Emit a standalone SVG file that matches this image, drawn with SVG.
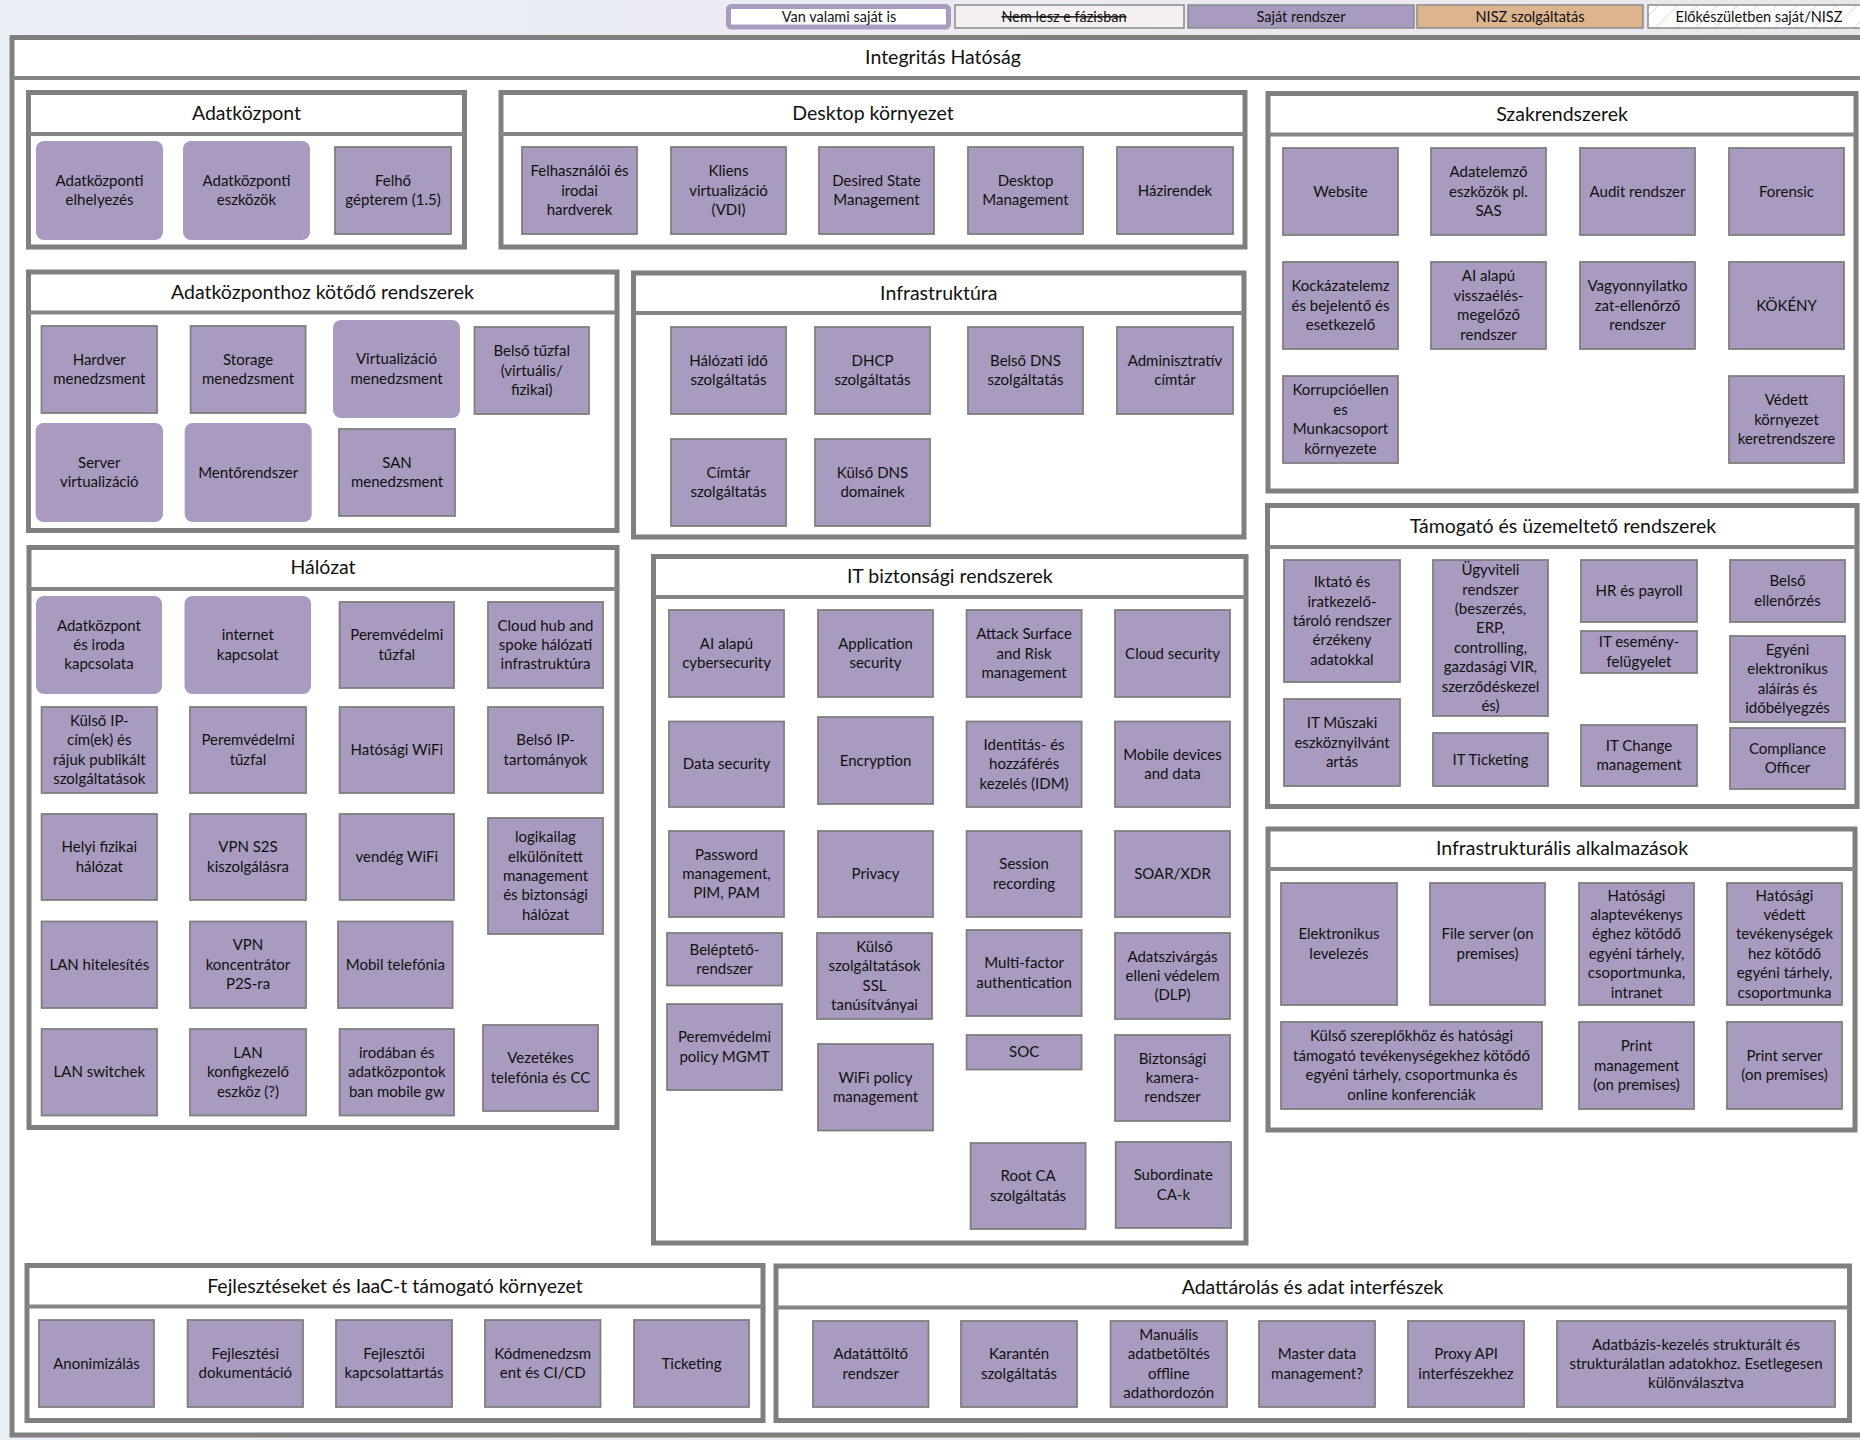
<svg xmlns="http://www.w3.org/2000/svg" width="1860" height="1440" viewBox="0 0 1860 1440">
<style>
.grp{fill:#fff;stroke:#7f7f7f;stroke-width:5}
.hdr{stroke:#868686;stroke-width:4}
.ttl{font-family:Lato,"Liberation Sans",sans-serif;font-size:19.5px;text-anchor:middle;fill:#111}
.n{fill:#a99bbf;stroke:#7f7f7f;stroke-width:1.8}
.r{fill:#a99bbf}
.t{font-family:Lato,"Liberation Sans",sans-serif;font-size:15px;text-anchor:middle;fill:#111}
.lg{font-family:Lato,"Liberation Sans",sans-serif;font-size:14.5px;text-anchor:middle;fill:#111}
.lgb{stroke:#8a8a8a;stroke-width:1.5}
</style>
<defs>
<linearGradient id="bg" x1="0" y1="0" x2="1" y2="0">
<stop offset="0" stop-color="#eaeff8"/>
<stop offset="1" stop-color="#ebe6ec"/>
</linearGradient>
<pattern id="hatch" width="14" height="14" patternUnits="userSpaceOnUse" patternTransform="rotate(45)">
<rect width="14" height="14" fill="#fff"/>
<line x1="0" y1="0" x2="0" y2="14" stroke="#c8c8c8" stroke-width="1.2"/>
</pattern>
</defs>
<rect x="0" y="0" width="1860" height="1440" fill="url(#bg)"/>

<g id="legend">
<g id="lg-van"><rect x="728.5" y="6.5" width="220" height="20.5" rx="3" fill="#fff" stroke="#a99bbf" stroke-width="5"/><text class="lg" x="839" y="21.5">Van valami saját is</text></g>
<g id="lg-nem"><rect class="lgb" x="955" y="5" width="229" height="23" fill="#f4f0f1"/><text class="lg" x="1064" y="21.5" style="text-decoration:line-through">Nem lesz e fázisban</text></g>
<g id="lg-sajat"><rect class="lgb" x="1188" y="5" width="226" height="23" fill="#a99bbf"/><text class="lg" x="1301" y="21.5">Saját rendszer</text></g>
<g id="lg-nisz"><rect class="lgb" x="1417" y="5" width="226" height="23" fill="#dcb48e"/><text class="lg" x="1530" y="21.5">NISZ szolgáltatás</text></g>
<g id="lg-elo"><rect class="lgb" x="1648" y="5" width="226" height="23" fill="url(#hatch)"/><text class="lg" x="1759" y="21.5">Előkészületben saját/NISZ</text></g>
</g>

<g id="outer">
<rect class="grp" x="12" y="37.5" width="1880" height="1397.5"/>
<line class="hdr" x1="12" y1="78" x2="1860" y2="78"/>
<text class="ttl" x="943" y="64">Integritás Hatóság</text>
</g>

<g id="connectors"/>

<g id="grp-adatkozpont">
<rect class="grp" x="28.5" y="92.5" width="436" height="154.5"/>
<line class="hdr" x1="28.5" y1="134" x2="464.5" y2="134"/>
<text class="ttl" x="246.5" y="119.5">Adatközpont</text>
<g id="n-adk-elhely"><rect class="r" x="36" y="141" width="127" height="99" rx="8"/><text class="t" x="99.5" y="185.8"><tspan x="99.5">Adatközponti</tspan><tspan x="99.5" dy="19.4">elhelyezés</tspan></text></g>
<g id="n-adk-eszk"><rect class="r" x="183" y="141" width="127" height="99" rx="8"/><text class="t" x="246.5" y="185.8"><tspan x="246.5">Adatközponti</tspan><tspan x="246.5" dy="19.4">eszközök</tspan></text></g>
<g id="n-adk-felho"><rect class="n" x="335" y="147" width="116" height="87"/><text class="t" x="393" y="185.8"><tspan x="393">Felhő</tspan><tspan x="393" dy="19.4">gépterem (1.5)</tspan></text></g>
</g>

<g id="grp-desktop">
<rect class="grp" x="501" y="92.5" width="744" height="154.5"/>
<line class="hdr" x1="501" y1="134" x2="1245" y2="134"/>
<text class="ttl" x="873" y="119.5">Desktop környezet</text>
<g id="n-dt-hw"><rect class="n" x="522" y="147" width="115" height="87"/><text class="t" x="579.5" y="176.1"><tspan x="579.5">Felhasználói és</tspan><tspan x="579.5" dy="19.4">irodai</tspan><tspan x="579.5" dy="19.4">hardverek</tspan></text></g>
<g id="n-dt-vdi"><rect class="n" x="671" y="147" width="115" height="87"/><text class="t" x="728.5" y="176.1"><tspan x="728.5">Kliens</tspan><tspan x="728.5" dy="19.4">virtualizáció</tspan><tspan x="728.5" dy="19.4">(VDI)</tspan></text></g>
<g id="n-dt-dsm"><rect class="n" x="819" y="147" width="115" height="87"/><text class="t" x="876.5" y="185.8"><tspan x="876.5">Desired State</tspan><tspan x="876.5" dy="19.4">Management</tspan></text></g>
<g id="n-dt-dm"><rect class="n" x="968" y="147" width="115" height="87"/><text class="t" x="1025.5" y="185.8"><tspan x="1025.5">Desktop</tspan><tspan x="1025.5" dy="19.4">Management</tspan></text></g>
<g id="n-dt-haz"><rect class="n" x="1117" y="147" width="116" height="87"/><text class="t" x="1175" y="195.5">Házirendek</text></g>
</g>

<g id="grp-szak">
<rect class="grp" x="1268" y="93.5" width="588" height="397.5"/>
<line class="hdr" x1="1268" y1="134.5" x2="1856" y2="134.5"/>
<text class="ttl" x="1562" y="120.5">Szakrendszerek</text>
<g id="n-sz-web"><rect class="n" x="1283" y="148" width="115" height="87"/><text class="t" x="1340.5" y="196.5">Website</text></g>
<g id="n-sz-sas"><rect class="n" x="1431" y="148" width="115" height="87"/><text class="t" x="1488.5" y="177.1"><tspan x="1488.5">Adatelemző</tspan><tspan x="1488.5" dy="19.4">eszközök pl.</tspan><tspan x="1488.5" dy="19.4">SAS</tspan></text></g>
<g id="n-sz-audit"><rect class="n" x="1580" y="148" width="115" height="87"/><text class="t" x="1637.5" y="196.5">Audit rendszer</text></g>
<g id="n-sz-for"><rect class="n" x="1729" y="148" width="115" height="87"/><text class="t" x="1786.5" y="196.5">Forensic</text></g>
<g id="n-sz-kock"><rect class="n" x="1283" y="262" width="115" height="87"/><text class="t" x="1340.5" y="291.1"><tspan x="1340.5">Kockázatelemz</tspan><tspan x="1340.5" dy="19.4">és bejelentő és</tspan><tspan x="1340.5" dy="19.4">esetkezelő</tspan></text></g>
<g id="n-sz-ai"><rect class="n" x="1431" y="262" width="115" height="87"/><text class="t" x="1488.5" y="281.4"><tspan x="1488.5">AI alapú</tspan><tspan x="1488.5" dy="19.4">visszaélés-</tspan><tspan x="1488.5" dy="19.4">megelőző</tspan><tspan x="1488.5" dy="19.4">rendszer</tspan></text></g>
<g id="n-sz-vagy"><rect class="n" x="1580" y="262" width="115" height="87"/><text class="t" x="1637.5" y="291.1"><tspan x="1637.5">Vagyonnyilatko</tspan><tspan x="1637.5" dy="19.4">zat-ellenőrző</tspan><tspan x="1637.5" dy="19.4">rendszer</tspan></text></g>
<g id="n-sz-kok"><rect class="n" x="1729" y="262" width="115" height="87"/><text class="t" x="1786.5" y="310.5">KÖKÉNY</text></g>
<g id="n-sz-korr"><rect class="n" x="1283" y="376" width="115" height="87"/><text class="t" x="1340.5" y="395.4"><tspan x="1340.5">Korrupcióellen</tspan><tspan x="1340.5" dy="19.4">es</tspan><tspan x="1340.5" dy="19.4">Munkacsoport</tspan><tspan x="1340.5" dy="19.4">környezete</tspan></text></g>
<g id="n-sz-ved"><rect class="n" x="1729" y="376" width="115" height="87"/><text class="t" x="1786.5" y="405.1"><tspan x="1786.5">Védett</tspan><tspan x="1786.5" dy="19.4">környezet</tspan><tspan x="1786.5" dy="19.4">keretrendszere</tspan></text></g>
</g>

<g id="grp-adkrendsz">
<rect class="grp" x="28.5" y="272" width="588.5" height="258.5"/>
<line class="hdr" x1="28.5" y1="312.5" x2="617" y2="312.5"/>
<text class="ttl" x="322.5" y="298.5">Adatközponthoz kötődő rendszerek</text>
<g id="n-ak-hw"><rect class="n" x="41.5" y="326" width="115.5" height="87"/><text class="t" x="99.25" y="364.8"><tspan x="99.25">Hardver</tspan><tspan x="99.25" dy="19.4">menedzsment</tspan></text></g>
<g id="n-ak-stor"><rect class="n" x="190.6" y="326" width="115" height="87"/><text class="t" x="248.1" y="364.8"><tspan x="248.1">Storage</tspan><tspan x="248.1" dy="19.4">menedzsment</tspan></text></g>
<g id="n-ak-virt"><rect class="r" x="333" y="320" width="127" height="98" rx="8"/><text class="t" x="396.5" y="364.3"><tspan x="396.5">Virtualizáció</tspan><tspan x="396.5" dy="19.4">menedzsment</tspan></text></g>
<g id="n-ak-fw"><rect class="n" x="474.5" y="327" width="114.5" height="87"/><text class="t" x="531.75" y="356.1"><tspan x="531.75">Belső tűzfal</tspan><tspan x="531.75" dy="19.4">(virtuális/</tspan><tspan x="531.75" dy="19.4">fizikai)</tspan></text></g>
<g id="n-ak-srv"><rect class="r" x="35.6" y="423" width="127.4" height="99" rx="8"/><text class="t" x="99.3" y="467.8"><tspan x="99.3">Server</tspan><tspan x="99.3" dy="19.4">virtualizáció</tspan></text></g>
<g id="n-ak-ment"><rect class="r" x="184.7" y="423" width="127" height="99" rx="8"/><text class="t" x="248.2" y="477.5">Mentőrendszer</text></g>
<g id="n-ak-san"><rect class="n" x="339" y="429" width="116" height="87"/><text class="t" x="397" y="467.8"><tspan x="397">SAN</tspan><tspan x="397" dy="19.4">menedzsment</tspan></text></g>
</g>

<g id="grp-infra">
<rect class="grp" x="633.5" y="273" width="610.5" height="264"/>
<line class="hdr" x1="633.5" y1="313" x2="1244" y2="313"/>
<text class="ttl" x="938.75" y="299.5">Infrastruktúra</text>
<g id="n-in-ido"><rect class="n" x="671" y="327" width="115" height="87"/><text class="t" x="728.5" y="365.8"><tspan x="728.5">Hálózati idő</tspan><tspan x="728.5" dy="19.4">szolgáltatás</tspan></text></g>
<g id="n-in-dhcp"><rect class="n" x="815" y="327" width="115" height="87"/><text class="t" x="872.5" y="365.8"><tspan x="872.5">DHCP</tspan><tspan x="872.5" dy="19.4">szolgáltatás</tspan></text></g>
<g id="n-in-dns"><rect class="n" x="968" y="327" width="115" height="87"/><text class="t" x="1025.5" y="365.8"><tspan x="1025.5">Belső DNS</tspan><tspan x="1025.5" dy="19.4">szolgáltatás</tspan></text></g>
<g id="n-in-adm"><rect class="n" x="1117" y="327" width="116" height="87"/><text class="t" x="1175" y="365.8"><tspan x="1175">Adminisztratív</tspan><tspan x="1175" dy="19.4">címtár</tspan></text></g>
<g id="n-in-cim"><rect class="n" x="671" y="439" width="115" height="87"/><text class="t" x="728.5" y="477.8"><tspan x="728.5">Címtár</tspan><tspan x="728.5" dy="19.4">szolgáltatás</tspan></text></g>
<g id="n-in-kdns"><rect class="n" x="815" y="439" width="115" height="87"/><text class="t" x="872.5" y="477.8"><tspan x="872.5">Külső DNS</tspan><tspan x="872.5" dy="19.4">domainek</tspan></text></g>
</g>

<g id="grp-halozat">
<rect class="grp" x="29" y="547.5" width="588" height="580"/>
<line class="hdr" x1="29" y1="589" x2="617" y2="589"/>
<text class="ttl" x="323" y="574">Hálózat</text>
<g id="n-h-adk"><rect class="r" x="36" y="596" width="126" height="98" rx="8"/><text class="t" x="99" y="630.6"><tspan x="99">Adatközpont</tspan><tspan x="99" dy="19.4">és iroda</tspan><tspan x="99" dy="19.4">kapcsolata</tspan></text></g>
<g id="n-h-inet"><rect class="r" x="184.5" y="596" width="126.5" height="98" rx="8"/><text class="t" x="247.75" y="640.3"><tspan x="247.75">internet</tspan><tspan x="247.75" dy="19.4">kapcsolat</tspan></text></g>
<g id="n-h-fw1"><rect class="n" x="339.6" y="602" width="114.4" height="86"/><text class="t" x="396.8" y="640.3"><tspan x="396.8">Peremvédelmi</tspan><tspan x="396.8" dy="19.4">tűzfal</tspan></text></g>
<g id="n-h-cloud"><rect class="n" x="488" y="602" width="115" height="86"/><text class="t" x="545.5" y="630.6"><tspan x="545.5">Cloud hub and</tspan><tspan x="545.5" dy="19.4">spoke hálózati</tspan><tspan x="545.5" dy="19.4">infrastruktúra</tspan></text></g>
<g id="n-h-kip"><rect class="n" x="41.6" y="707" width="115.4" height="86"/><text class="t" x="99.3" y="725.9"><tspan x="99.3">Külső IP-</tspan><tspan x="99.3" dy="19.4">cím(ek) és</tspan><tspan x="99.3" dy="19.4">rájuk publikált</tspan><tspan x="99.3" dy="19.4">szolgáltatások</tspan></text></g>
<g id="n-h-fw2"><rect class="n" x="190" y="707" width="116" height="86"/><text class="t" x="248" y="745.3"><tspan x="248">Peremvédelmi</tspan><tspan x="248" dy="19.4">tűzfal</tspan></text></g>
<g id="n-h-wifi"><rect class="n" x="339.6" y="707" width="114.4" height="86"/><text class="t" x="396.8" y="755">Hatósági WiFi</text></g>
<g id="n-h-bip"><rect class="n" x="488" y="707" width="115" height="86"/><text class="t" x="545.5" y="745.3"><tspan x="545.5">Belső IP-</tspan><tspan x="545.5" dy="19.4">tartományok</tspan></text></g>
<g id="n-h-helyi"><rect class="n" x="41.6" y="814" width="115.4" height="86"/><text class="t" x="99.3" y="852.3"><tspan x="99.3">Helyi fizikai</tspan><tspan x="99.3" dy="19.4">hálózat</tspan></text></g>
<g id="n-h-s2s"><rect class="n" x="190" y="814" width="116" height="86"/><text class="t" x="248" y="852.3"><tspan x="248">VPN S2S</tspan><tspan x="248" dy="19.4">kiszolgálásra</tspan></text></g>
<g id="n-h-vwifi"><rect class="n" x="339.6" y="814" width="114.4" height="86"/><text class="t" x="396.8" y="862">vendég WiFi</text></g>
<g id="n-h-log"><rect class="n" x="488" y="818" width="115" height="116"/><text class="t" x="545.5" y="842.2"><tspan x="545.5">logikailag</tspan><tspan x="545.5" dy="19.4">elkülönített</tspan><tspan x="545.5" dy="19.4">management</tspan><tspan x="545.5" dy="19.4">és biztonsági</tspan><tspan x="545.5" dy="19.4">hálózat</tspan></text></g>
<g id="n-h-lanh"><rect class="n" x="41.6" y="921.5" width="115.4" height="86.5"/><text class="t" x="99.3" y="969.75">LAN hitelesítés</text></g>
<g id="n-h-p2s"><rect class="n" x="190" y="921.5" width="116" height="86.5"/><text class="t" x="248" y="950.35"><tspan x="248">VPN</tspan><tspan x="248" dy="19.4">koncentrátor</tspan><tspan x="248" dy="19.4">P2S-ra</tspan></text></g>
<g id="n-h-mob"><rect class="n" x="338" y="921.5" width="114.6" height="86.5"/><text class="t" x="395.3" y="969.75">Mobil telefónia</text></g>
<g id="n-h-sw"><rect class="n" x="41.6" y="1029" width="115.4" height="86.5"/><text class="t" x="99.3" y="1077.25">LAN switchek</text></g>
<g id="n-h-konf"><rect class="n" x="190" y="1029" width="116" height="86.5"/><text class="t" x="248" y="1057.85"><tspan x="248">LAN</tspan><tspan x="248" dy="19.4">konfigkezelő</tspan><tspan x="248" dy="19.4">eszköz (?)</tspan></text></g>
<g id="n-h-gw"><rect class="n" x="339.6" y="1029" width="114.4" height="86.5"/><text class="t" x="396.8" y="1057.85"><tspan x="396.8">irodában és</tspan><tspan x="396.8" dy="19.4">adatközpontok</tspan><tspan x="396.8" dy="19.4">ban mobile gw</tspan></text></g>
<g id="n-h-vez"><rect class="n" x="483" y="1025" width="115" height="86"/><text class="t" x="540.5" y="1063.3"><tspan x="540.5">Vezetékes</tspan><tspan x="540.5" dy="19.4">telefónia és CC</tspan></text></g>
</g>

<g id="grp-itbiz">
<rect class="grp" x="653.5" y="556.5" width="592.5" height="686.5"/>
<line class="hdr" x1="653.5" y1="597" x2="1246" y2="597"/>
<text class="ttl" x="949.75" y="583">IT biztonsági rendszerek</text>
<g id="n-it-ai"><rect class="n" x="669" y="610" width="115" height="87"/><text class="t" x="726.5" y="648.8"><tspan x="726.5">AI alapú</tspan><tspan x="726.5" dy="19.4">cybersecurity</tspan></text></g>
<g id="n-it-app"><rect class="n" x="818" y="610" width="115" height="87"/><text class="t" x="875.5" y="648.8"><tspan x="875.5">Application</tspan><tspan x="875.5" dy="19.4">security</tspan></text></g>
<g id="n-it-asr"><rect class="n" x="966.6" y="610" width="115" height="87"/><text class="t" x="1024.1" y="639.1"><tspan x="1024.1">Attack Surface</tspan><tspan x="1024.1" dy="19.4">and Risk</tspan><tspan x="1024.1" dy="19.4">management</tspan></text></g>
<g id="n-it-cloud"><rect class="n" x="1115" y="610" width="115" height="87"/><text class="t" x="1172.5" y="658.5">Cloud security</text></g>
<g id="n-it-data"><rect class="n" x="669" y="721.5" width="115" height="85.5"/><text class="t" x="726.5" y="769.25">Data security</text></g>
<g id="n-it-enc"><rect class="n" x="818" y="717" width="115" height="87"/><text class="t" x="875.5" y="765.5">Encryption</text></g>
<g id="n-it-idm"><rect class="n" x="966.6" y="721.5" width="115" height="85.5"/><text class="t" x="1024.1" y="749.85"><tspan x="1024.1">Identitás- és</tspan><tspan x="1024.1" dy="19.4">hozzáférés</tspan><tspan x="1024.1" dy="19.4">kezelés (IDM)</tspan></text></g>
<g id="n-it-mob"><rect class="n" x="1115" y="721.5" width="115" height="85.5"/><text class="t" x="1172.5" y="759.55"><tspan x="1172.5">Mobile devices</tspan><tspan x="1172.5" dy="19.4">and data</tspan></text></g>
<g id="n-it-pwd"><rect class="n" x="669" y="831" width="115" height="86"/><text class="t" x="726.5" y="859.6"><tspan x="726.5">Password</tspan><tspan x="726.5" dy="19.4">management,</tspan><tspan x="726.5" dy="19.4">PIM, PAM</tspan></text></g>
<g id="n-it-priv"><rect class="n" x="818" y="831" width="115" height="86"/><text class="t" x="875.5" y="879">Privacy</text></g>
<g id="n-it-sess"><rect class="n" x="966.6" y="831" width="115" height="86"/><text class="t" x="1024.1" y="869.3"><tspan x="1024.1">Session</tspan><tspan x="1024.1" dy="19.4">recording</tspan></text></g>
<g id="n-it-soar"><rect class="n" x="1115" y="831" width="115" height="86"/><text class="t" x="1172.5" y="879">SOAR/XDR</text></g>
<g id="n-it-bel"><rect class="n" x="667" y="933" width="115" height="52.5"/><text class="t" x="724.5" y="954.55"><tspan x="724.5">Beléptető-</tspan><tspan x="724.5" dy="19.4">rendszer</tspan></text></g>
<g id="n-it-ssl"><rect class="n" x="817" y="933" width="115" height="86"/><text class="t" x="874.5" y="951.9"><tspan x="874.5">Külső</tspan><tspan x="874.5" dy="19.4">szolgáltatások</tspan><tspan x="874.5" dy="19.4">SSL</tspan><tspan x="874.5" dy="19.4">tanúsítványai</tspan></text></g>
<g id="n-it-mfa"><rect class="n" x="966.6" y="930" width="115" height="86"/><text class="t" x="1024.1" y="968.3"><tspan x="1024.1">Multi-factor</tspan><tspan x="1024.1" dy="19.4">authentication</tspan></text></g>
<g id="n-it-dlp"><rect class="n" x="1115" y="933" width="115" height="86"/><text class="t" x="1172.5" y="961.6"><tspan x="1172.5">Adatszivárgás</tspan><tspan x="1172.5" dy="19.4">elleni védelem</tspan><tspan x="1172.5" dy="19.4">(DLP)</tspan></text></g>
<g id="n-it-ppol"><rect class="n" x="667" y="1004" width="115" height="86"/><text class="t" x="724.5" y="1042.3"><tspan x="724.5">Peremvédelmi</tspan><tspan x="724.5" dy="19.4">policy MGMT</tspan></text></g>
<g id="n-it-wpol"><rect class="n" x="818" y="1044" width="115" height="86.5"/><text class="t" x="875.5" y="1082.55"><tspan x="875.5">WiFi policy</tspan><tspan x="875.5" dy="19.4">management</tspan></text></g>
<g id="n-it-soc"><rect class="n" x="966.6" y="1035" width="115" height="34.5"/><text class="t" x="1024.1" y="1057.25">SOC</text></g>
<g id="n-it-kam"><rect class="n" x="1115" y="1035" width="115" height="86"/><text class="t" x="1172.5" y="1063.6"><tspan x="1172.5">Biztonsági</tspan><tspan x="1172.5" dy="19.4">kamera-</tspan><tspan x="1172.5" dy="19.4">rendszer</tspan></text></g>
<g id="n-it-root"><rect class="n" x="970.6" y="1143" width="115" height="86"/><text class="t" x="1028.1" y="1181.3"><tspan x="1028.1">Root CA</tspan><tspan x="1028.1" dy="19.4">szolgáltatás</tspan></text></g>
<g id="n-it-sub"><rect class="n" x="1115.7" y="1142" width="115.3" height="86"/><text class="t" x="1173.35" y="1180.3"><tspan x="1173.35">Subordinate</tspan><tspan x="1173.35" dy="19.4">CA-k</tspan></text></g>
</g>

<g id="grp-tamogato">
<rect class="grp" x="1267.5" y="505.5" width="589.5" height="301"/>
<line class="hdr" x1="1267.5" y1="547" x2="1857" y2="547"/>
<text class="ttl" x="1563" y="532.5">Támogató és üzemeltető rendszerek</text>
<g id="n-t-ikt"><rect class="n" x="1284" y="560" width="116" height="122"/><text class="t" x="1342" y="587.2"><tspan x="1342">Iktató és</tspan><tspan x="1342" dy="19.4">iratkezelő-</tspan><tspan x="1342" dy="19.4">tároló rendszer</tspan><tspan x="1342" dy="19.4">érzékeny</tspan><tspan x="1342" dy="19.4">adatokkal</tspan></text></g>
<g id="n-t-musz"><rect class="n" x="1284" y="699" width="116" height="87"/><text class="t" x="1342" y="728.1"><tspan x="1342">IT Műszaki</tspan><tspan x="1342" dy="19.4">eszköznyilvánt</tspan><tspan x="1342" dy="19.4">artás</tspan></text></g>
<g id="n-t-ugyv"><rect class="n" x="1433" y="560" width="115" height="156"/><text class="t" x="1490.5" y="575.1"><tspan x="1490.5">Ügyviteli</tspan><tspan x="1490.5" dy="19.4">rendszer</tspan><tspan x="1490.5" dy="19.4">(beszerzés,</tspan><tspan x="1490.5" dy="19.4">ERP,</tspan><tspan x="1490.5" dy="19.4">controlling,</tspan><tspan x="1490.5" dy="19.4">gazdasági VIR,</tspan><tspan x="1490.5" dy="19.4">szerződéskezel</tspan><tspan x="1490.5" dy="19.4">és)</tspan></text></g>
<g id="n-t-tick"><rect class="n" x="1433" y="733" width="115" height="53"/><text class="t" x="1490.5" y="764.5">IT Ticketing</text></g>
<g id="n-t-hr"><rect class="n" x="1581" y="560" width="116" height="62"/><text class="t" x="1639" y="596">HR és payroll</text></g>
<g id="n-t-esem"><rect class="n" x="1581" y="631" width="116" height="42"/><text class="t" x="1639" y="647.3"><tspan x="1639">IT esemény-</tspan><tspan x="1639" dy="19.4">felügyelet</tspan></text></g>
<g id="n-t-chg"><rect class="n" x="1581" y="725" width="116" height="61"/><text class="t" x="1639" y="750.8"><tspan x="1639">IT Change</tspan><tspan x="1639" dy="19.4">management</tspan></text></g>
<g id="n-t-bell"><rect class="n" x="1730" y="560" width="115" height="62"/><text class="t" x="1787.5" y="586.3"><tspan x="1787.5">Belső</tspan><tspan x="1787.5" dy="19.4">ellenőrzés</tspan></text></g>
<g id="n-t-alair"><rect class="n" x="1730" y="636" width="115" height="86"/><text class="t" x="1787.5" y="654.9"><tspan x="1787.5">Egyéni</tspan><tspan x="1787.5" dy="19.4">elektronikus</tspan><tspan x="1787.5" dy="19.4">aláírás és</tspan><tspan x="1787.5" dy="19.4">időbélyegzés</tspan></text></g>
<g id="n-t-comp"><rect class="n" x="1730" y="728" width="115" height="61"/><text class="t" x="1787.5" y="753.8"><tspan x="1787.5">Compliance</tspan><tspan x="1787.5" dy="19.4">Officer</tspan></text></g>
</g>

<g id="grp-infraalk">
<rect class="grp" x="1268" y="829" width="587" height="301"/>
<line class="hdr" x1="1268" y1="869" x2="1855" y2="869"/>
<text class="ttl" x="1562" y="855">Infrastrukturális alkalmazások</text>
<g id="n-ia-lev"><rect class="n" x="1281" y="883" width="116" height="122"/><text class="t" x="1339" y="939.3"><tspan x="1339">Elektronikus</tspan><tspan x="1339" dy="19.4">levelezés</tspan></text></g>
<g id="n-ia-fs"><rect class="n" x="1430" y="883" width="115" height="122"/><text class="t" x="1487.5" y="939.3"><tspan x="1487.5">File server (on</tspan><tspan x="1487.5" dy="19.4">premises)</tspan></text></g>
<g id="n-ia-alap"><rect class="n" x="1579" y="883" width="115" height="122"/><text class="t" x="1636.5" y="900.5"><tspan x="1636.5">Hatósági</tspan><tspan x="1636.5" dy="19.4">alaptevékenys</tspan><tspan x="1636.5" dy="19.4">éghez kötődő</tspan><tspan x="1636.5" dy="19.4">egyéni tárhely,</tspan><tspan x="1636.5" dy="19.4">csoportmunka,</tspan><tspan x="1636.5" dy="19.4">intranet</tspan></text></g>
<g id="n-ia-ved"><rect class="n" x="1727" y="883" width="115" height="122"/><text class="t" x="1784.5" y="900.5"><tspan x="1784.5">Hatósági</tspan><tspan x="1784.5" dy="19.4">védett</tspan><tspan x="1784.5" dy="19.4">tevékenységek</tspan><tspan x="1784.5" dy="19.4">hez kötődő</tspan><tspan x="1784.5" dy="19.4">egyéni tárhely,</tspan><tspan x="1784.5" dy="19.4">csoportmunka</tspan></text></g>
<g id="n-ia-kulso"><rect class="n" x="1281" y="1022" width="261" height="87"/><text class="t" x="1411.5" y="1041.4"><tspan x="1411.5">Külső szereplőkhöz és hatósági</tspan><tspan x="1411.5" dy="19.4">támogató tevékenységekhez kötődő</tspan><tspan x="1411.5" dy="19.4">egyéni tárhely, csoportmunka és</tspan><tspan x="1411.5" dy="19.4">online konferenciák</tspan></text></g>
<g id="n-ia-pm"><rect class="n" x="1579" y="1022" width="115" height="87"/><text class="t" x="1636.5" y="1051.1"><tspan x="1636.5">Print</tspan><tspan x="1636.5" dy="19.4">management</tspan><tspan x="1636.5" dy="19.4">(on premises)</tspan></text></g>
<g id="n-ia-ps"><rect class="n" x="1727" y="1022" width="115" height="87"/><text class="t" x="1784.5" y="1060.8"><tspan x="1784.5">Print server</tspan><tspan x="1784.5" dy="19.4">(on premises)</tspan></text></g>
</g>

<g id="grp-fejl">
<rect class="grp" x="27" y="1265.5" width="736" height="155"/>
<line class="hdr" x1="27" y1="1306.5" x2="763" y2="1306.5"/>
<text class="ttl" x="395" y="1292.5">Fejlesztéseket és IaaC-t támogató környezet</text>
<g id="n-f-anon"><rect class="n" x="39" y="1320" width="115" height="87"/><text class="t" x="96.5" y="1368.5">Anonimizálás</text></g>
<g id="n-f-dok"><rect class="n" x="187.6" y="1320" width="115.4" height="87"/><text class="t" x="245.3" y="1358.8"><tspan x="245.3">Fejlesztési</tspan><tspan x="245.3" dy="19.4">dokumentáció</tspan></text></g>
<g id="n-f-kapcs"><rect class="n" x="336" y="1320" width="116" height="87"/><text class="t" x="394" y="1358.8"><tspan x="394">Fejlesztői</tspan><tspan x="394" dy="19.4">kapcsolattartás</tspan></text></g>
<g id="n-f-kod"><rect class="n" x="485" y="1320" width="115.5" height="87"/><text class="t" x="542.75" y="1358.8"><tspan x="542.75">Kódmenedzsm</tspan><tspan x="542.75" dy="19.4">ent és CI/CD</tspan></text></g>
<g id="n-f-tick"><rect class="n" x="634" y="1320" width="115" height="87"/><text class="t" x="691.5" y="1368.5">Ticketing</text></g>
</g>

<g id="grp-adattar">
<rect class="grp" x="776" y="1266" width="1073.5" height="154.5"/>
<line class="hdr" x1="776" y1="1307.5" x2="1849.5" y2="1307.5"/>
<text class="ttl" x="1312.5" y="1293.5">Adattárolás és adat interfészek</text>
<g id="n-a-att"><rect class="n" x="813" y="1321" width="115.5" height="86"/><text class="t" x="870.75" y="1359.3"><tspan x="870.75">Adatáttöltő</tspan><tspan x="870.75" dy="19.4">rendszer</tspan></text></g>
<g id="n-a-kar"><rect class="n" x="961" y="1321" width="116" height="86"/><text class="t" x="1019" y="1359.3"><tspan x="1019">Karantén</tspan><tspan x="1019" dy="19.4">szolgáltatás</tspan></text></g>
<g id="n-a-man"><rect class="n" x="1110.6" y="1321" width="116.4" height="86"/><text class="t" x="1168.8" y="1339.9"><tspan x="1168.8">Manuális</tspan><tspan x="1168.8" dy="19.4">adatbetöltés</tspan><tspan x="1168.8" dy="19.4">offline</tspan><tspan x="1168.8" dy="19.4">adathordozón</tspan></text></g>
<g id="n-a-mdm"><rect class="n" x="1259" y="1321" width="116" height="86"/><text class="t" x="1317" y="1359.3"><tspan x="1317">Master data</tspan><tspan x="1317" dy="19.4">management?</tspan></text></g>
<g id="n-a-proxy"><rect class="n" x="1408" y="1321" width="116" height="86"/><text class="t" x="1466" y="1359.3"><tspan x="1466">Proxy API</tspan><tspan x="1466" dy="19.4">interfészekhez</tspan></text></g>
<g id="n-a-db"><rect class="n" x="1557" y="1321" width="278" height="86"/><text class="t" x="1696" y="1349.6"><tspan x="1696">Adatbázis-kezelés strukturált és</tspan><tspan x="1696" dy="19.4">strukturálatlan adatokhoz. Esetlegesen</tspan><tspan x="1696" dy="19.4">különválasztva</tspan></text></g>
</g>
</svg>
